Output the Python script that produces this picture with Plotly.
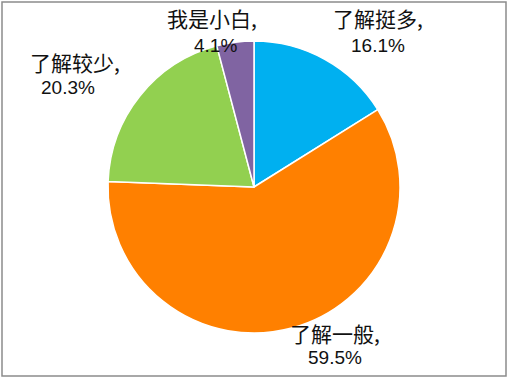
import plotly.graph_objects as go

labels = ["了解挺多", "了解一般", "了解较少", "我是小白"]
values = [16.1, 59.5, 20.3, 4.1]
colors = ["#00B0F0", "#FF8000", "#92D050", "#8064A2"]

W, H = 509, 379
cx, cy, r = 254, 187, 146

fig = go.Figure(go.Pie(
    labels=labels, values=values, sort=False, direction="clockwise", rotation=0,
    marker=dict(colors=colors, line=dict(color="white", width=1.5)),
    textinfo="none", hoverinfo="label+percent", showlegend=False,
    domain=dict(x=[(cx - r) / W, (cx + r) / W], y=[1 - (cy + r) / H, 1 - (cy - r) / H]),
))

# label positions (pixel centres of the two text lines)
label_pos = [(378, 18, 378, 45), (335, 333, 335, 357), (75, 62, 68, 87), (212, 18, 215, 45)]
cn_font = dict(family="Noto Sans CJK SC, sans-serif", size=21, color="#111111")
num_font = dict(family="Liberation Sans, Noto Sans CJK SC, sans-serif", size=19, color="#111111")
ann = []
for lab, v, (x1, y1, x2, y2) in zip(labels, values, label_pos):
    ann.append(dict(x=x1 / W, y=1 - y1 / H, xref="paper", yref="paper", text=lab + ",",
                    showarrow=False, font=cn_font, xanchor="center", yanchor="middle"))
    ann.append(dict(x=x2 / W, y=1 - y2 / H, xref="paper", yref="paper", text=f"{v:.1f}%",
                    showarrow=False, font=num_font, xanchor="center", yanchor="middle"))

fig.update_layout(
    width=W, height=H, margin=dict(l=0, r=0, t=0, b=0),
    paper_bgcolor="white", plot_bgcolor="white",
    annotations=ann,
    shapes=[dict(type="rect", xref="paper", yref="paper", x0=2 / W, x1=1 - 3 / W,
                 y0=3 / H, y1=1 - 2 / H, line=dict(color="#8c8c8c", width=1.5))],
)
fig.write_html("out.html", config={"displayModeBar": False},
               post_script="document.body.style.margin='0';document.body.style.overflow='hidden';")
